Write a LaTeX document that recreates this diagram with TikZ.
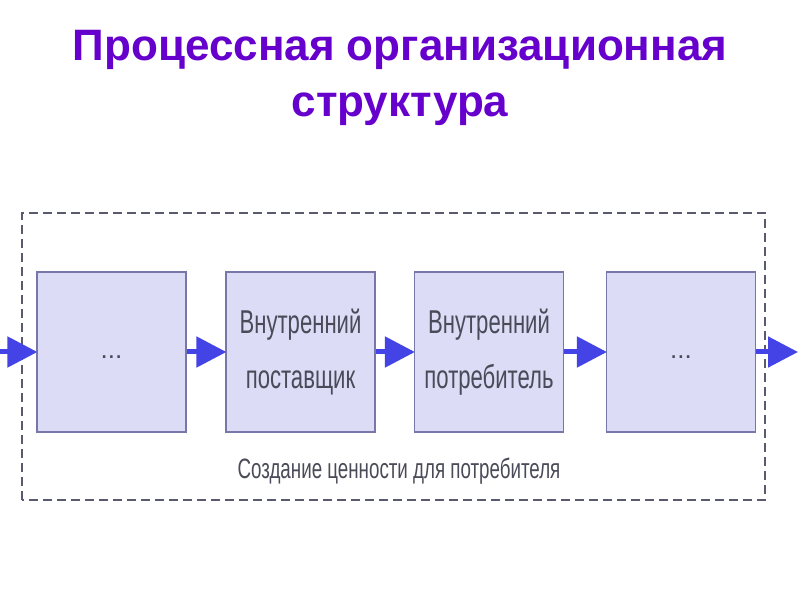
\documentclass[tikz,border=0pt]{standalone}
\usepackage{fontspec}
\setmainfont{Liberation Sans}
\newfontfamily\narrowfont[FakeStretch=0.67]{Liberation Sans}
\usetikzlibrary{arrows.meta,positioning}
\definecolor{titlecol}{HTML}{6600CC}
\definecolor{boxfill}{HTML}{DCDCF6}
\definecolor{boxline}{HTML}{7878A8}
\definecolor{flowcol}{HTML}{4343E6}
\definecolor{framecol}{HTML}{5A5A6E}
\definecolor{textcol}{HTML}{4A4A58}
\tikzset{stage/.style={draw=boxline,line width=1.2pt,fill=boxfill,minimum width=149pt,minimum height=160pt,
  inner sep=0pt,align=center,font=\narrowfont\fontsize{33}{55}\selectfont,text=textcol}}
\tikzset{flow/.style={draw=flowcol,line width=5pt,-{Triangle[length=30pt,width=30pt]},shorten >=-1pt}}
\newcommand{\etc}{\raisebox{-12pt}{\rmfamily\fontsize{26}{30}\selectfont...}}

\begin{document}
\begin{tikzpicture}[x=1pt,y=1pt]
        \useasboundingbox (0,0) rectangle (800,600);
        \node[font=\bfseries\fontsize{44}{56}\selectfont,text=titlecol,align=center] (title) at (400,522)
          {Процессная организационная\\структура};
        \draw[framecol,line width=1.5pt,dash pattern=on 9pt off 5pt] (22,100) rectangle (765,387);
        \node[stage] (s1) at (111.5,248) {\etc};
        \node[stage] (s2) at (300.5,248) {Внутренний\\поставщик};
        \node[stage] (s3) at (489,248) {Внутренний\\потребитель};
        \node[stage] (s4) at (681,248) {\etc};
        \node[font=\narrowfont\fontsize{28}{32}\selectfont,text=textcol] (value) at (399,129)
          {Создание ценности для потребителя};
        \coordinate (in) at (0,248);
        \coordinate (out) at (797,248);
        \draw[flow] (in) -- (s1);
        \draw[flow] (s1) -- (s2);
        \draw[flow] (s2) -- (s3);
        \draw[flow] (s3) -- (s4);
        \draw[flow] (s4) -- (out);
\end{tikzpicture}
\end{document}
